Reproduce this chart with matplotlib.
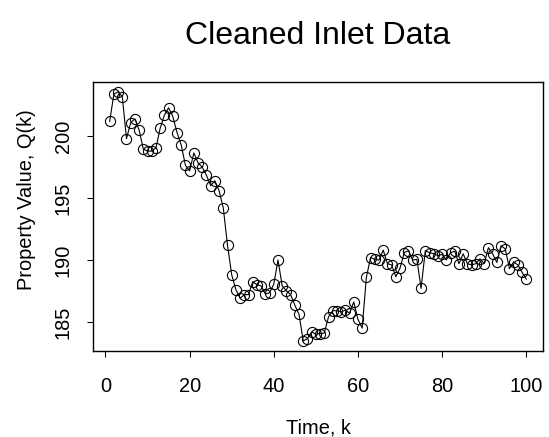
import matplotlib
matplotlib.use("Agg")
from matplotlib import pyplot
import numpy as np

pyplot.rcParams["font.family"] = ["Liberation Sans", "DejaVu Sans"]

# cleaned inlet measurements, k = 1..100
time_k = np.arange(1, 101)
q_values = np.array([
    201.2, 203.4, 203.6, 203.2, 199.8, 201.1, 201.4, 200.5, 198.95, 198.8,
    198.8, 199.05, 200.65, 201.7, 202.3, 201.6, 200.3, 199.3, 197.65, 197.2,
    198.65, 197.85, 197.5, 196.85, 196.0, 196.4, 195.6, 194.2, 191.2, 188.8,
    187.6, 186.9, 187.2, 187.2, 188.25, 188.0, 187.9, 187.25, 187.35, 188.05,
    190.0, 187.9, 187.5, 187.2, 186.35, 185.6, 183.45, 183.65, 184.2, 184.0,
    184.05, 184.1, 185.4, 185.9, 185.9, 185.8, 185.95, 185.7, 186.6, 185.2,
    184.5, 188.6, 190.2, 190.05, 190.0, 190.8, 189.7, 189.6, 188.65, 189.35,
    190.6, 190.75, 190.0, 190.05, 187.7, 190.75, 190.6, 190.5, 190.35, 190.45,
    190.0, 190.6, 190.7, 189.7, 190.5, 189.7, 189.6, 189.7, 190.1, 189.7,
    191.0, 190.5, 189.8, 191.15, 190.9, 189.3, 189.85, 189.6, 189.0, 188.45,
])
x_ticks = [0, 20, 40, 60, 80, 100]
y_ticks = [185, 190, 195, 200]

fig = pyplot.figure(figsize=(5.49, 4.37), dpi=100)
ax = fig.add_axes([0.1694, 0.1968, 0.8196, 0.6162])

ax.plot(time_k, q_values, color="black", linewidth=0.8,
        marker="o", markersize=7.3, markerfacecolor="none",
        markeredgecolor="black", markeredgewidth=0.8)

ax.margins(x=0.04, y=0.04)
ax.set_xticks(x_ticks)
ax.set_yticks(y_ticks)
ax.set_yticklabels([str(v) for v in y_ticks], rotation=90, va="center")
ax.tick_params(axis="both", labelsize=14.4, length=4, width=0.75,
               direction="out")
ax.tick_params(axis="x", pad=15)
ax.tick_params(axis="y", pad=10.5)
for sp in ax.spines.values():
    sp.set_linewidth(1.0)
    sp.set_color("black")

ax.set_xlabel("Time, k", fontsize=14.4, labelpad=16)
ax.set_ylabel("Property Value, Q(k)", fontsize=14.4, labelpad=13, y=0.561)
ax.set_title("Cleaned Inlet Data", fontsize=23, pad=27.5)

fig.savefig("out.png", dpi=100)
